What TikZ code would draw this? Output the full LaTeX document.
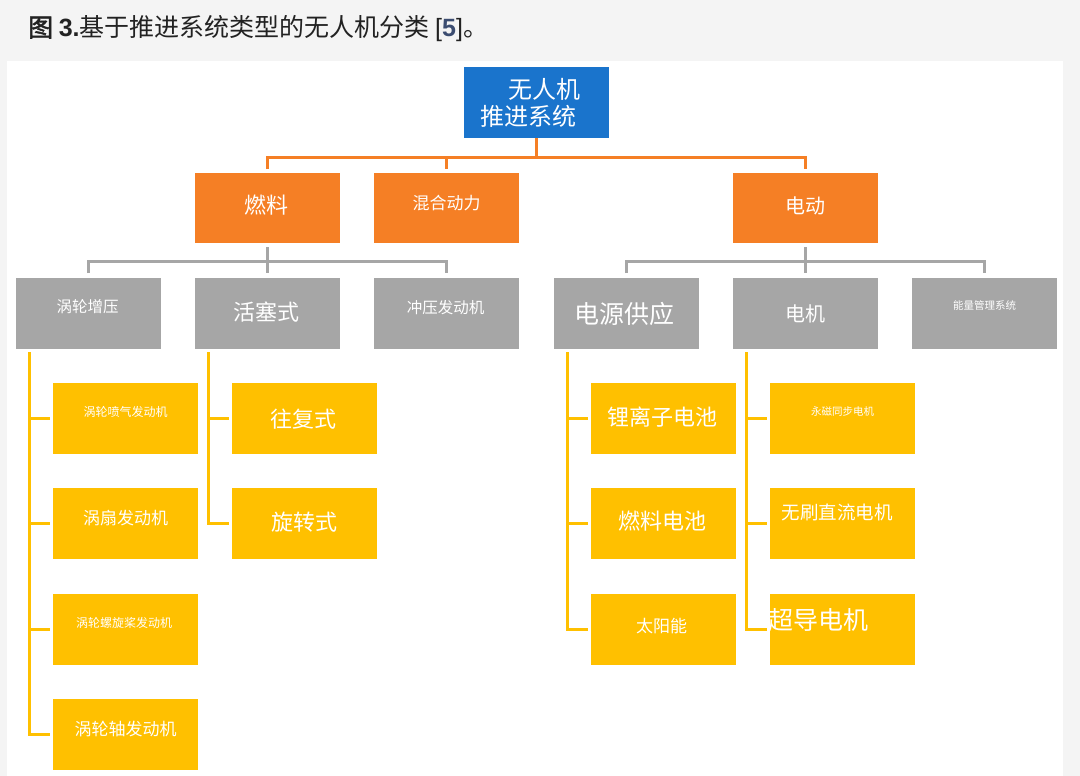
\documentclass[tikz,border=0pt]{standalone}
\usepackage{fontspec}
\setmainfont{Noto Sans CJK SC}[AutoFakeBold=2]
\newfontfamily\lat{Liberation Sans}
\usetikzlibrary{calc}
\definecolor{bgout}{HTML}{F4F4F4}
\definecolor{cblue}{HTML}{1A74CC}
\definecolor{corange}{HTML}{F57F25}
\definecolor{cgray}{HTML}{A6A6A6}
\definecolor{cyellow}{HTML}{FFC000}
\definecolor{cref}{HTML}{3B4C70}
\definecolor{ctitle}{HTML}{222222}
\newcommand\fs[1]{\fontsize{#1}{#1}\selectfont}
\newcommand\off[3]{\raisebox{\dimexpr 0pt-(#2)-0.38em\relax}[0pt][0pt]{\makebox[0pt]{\hspace*{#1}\hspace*{#1}#3}}}
\newcommand\tb[4]{\fs{#1}\off{#2}{#3}{#4}}
\begin{document}
\begin{tikzpicture}[x=1pt,y=-1pt,
  box/.style={minimum width=145pt, minimum height=71pt, inner sep=0pt, outer sep=0pt, text=white},
  rootbox/.style={box, fill=cblue},
  obox/.style={box, fill=corange, minimum height=70pt},
  gbox/.style={box, fill=cgray},
  ybox/.style={box, fill=cyellow},
  oline/.style={draw=corange, line width=3pt},
  gline/.style={draw=cgray, line width=3pt},
  yline/.style={draw=cyellow, line width=3pt}]
\useasboundingbox (0,0) rectangle (1080,776);
\fill[bgout] (0,0) rectangle (1080,776);
\fill[white] (7,61) rectangle (1063,776);

\node[anchor=base west, inner sep=0pt, text=ctitle] (title) at (28,36.5)
  {\fs{25}\textbf{图 {\lat 3.}}基于推进系统类型的无人机分类 {\lat[\textbf{\textcolor{cref}{5}}]}。};

% root
\node[rootbox] (root) at (536.5,102.5) {\fs{24}\off{7.5pt}{-13.5pt}{无人机}\off{-8.5pt}{13.5pt}{推进系统}};

% level 1
\node[obox] (fuel) at (267.5,208) {\tb{22}{-1.5pt}{-3pt}{燃料}};
\node[obox] (hyb)  at (446.5,208) {\tb{17}{0pt}{-4.5pt}{混合动力}};
\node[obox] (elec) at (805.5,208) {\tb{20}{0pt}{-2.5pt}{电动}};

% level 2
\node[gbox] (turbo)  at (88.5,313.5)  {\tb{15.5}{-1pt}{-6.5pt}{涡轮增压}};
\node[gbox] (piston) at (267.5,313.5) {\tb{22}{-1.5pt}{-1.5pt}{活塞式}};
\node[gbox] (ram)    at (446.5,313.5) {\tb{15.5}{-1pt}{-5.5pt}{冲压发动机}};
\node[gbox] (power)  at (626.5,313.5) {\tb{25}{-2pt}{0.5pt}{电源供应}};
\node[gbox] (motor)  at (805.5,313.5) {\tb{20}{0pt}{0pt}{电机}};
\node[gbox] (ems)    at (984.5,313.5) {\tb{10.5}{0pt}{-8pt}{能量管理系统}};

% level 3
\node[ybox] (tj) at (125.5,418.5) {\tb{12}{0pt}{-7pt}{涡轮喷气发动机}};
\node[ybox] (tf) at (125.5,523.5) {\tb{17}{0pt}{-5pt}{涡扇发动机}};
\node[ybox] (tp) at (125.5,629)   {\tb{12}{-1.5pt}{-6pt}{涡轮螺旋桨发动机}};
\node[ybox] (ts) at (125.5,734)   {\tb{17}{0pt}{-5pt}{涡轮轴发动机}};

\node[ybox] (recip) at (304.5,418.5) {\tb{22}{-1.5pt}{0.5pt}{往复式}};
\node[ybox] (rot)   at (304.5,523.5) {\tb{22}{0pt}{-1pt}{旋转式}};

\node[ybox] (li)    at (663.5,418.5) {\tb{22}{-1pt}{-1pt}{锂离子电池}};
\node[ybox] (fc)    at (663.5,523.5) {\tb{22}{-1.5pt}{-2.5pt}{燃料电池}};
\node[ybox] (solar) at (663.5,629)   {\tb{17}{-2pt}{-3pt}{太阳能}};

\node[ybox] (pm) at (842.5,418.5) {\tb{10.5}{0pt}{-7pt}{永磁同步电机}};
\node[ybox] (bl) at (842.5,523.5) {\tb{18.5}{-5.5pt}{-11pt}{无刷直流电机}};
\node[ybox] (sc) at (842.5,629)   {\tb{25}{-24.5pt}{-9pt}{超导电机}};

% orange connectors
\coordinate (obus) at ([yshift=16pt]fuel.north);
\draw[oline] (root.south) -- (root.south |- obus);
\draw[oline] ([yshift=4pt]fuel.north) -- (obus) -- (elec.north |- obus) -- ([yshift=4pt]elec.north);
\draw[oline] (hyb.north |- obus) -- ([yshift=4pt]hyb.north);

% gray connectors
\coordinate (gbus1) at ([yshift=-18pt]fuel.south);
\draw[gline] ([yshift=-4pt]fuel.south) -- (gbus1);
\draw[gline] ([yshift=5pt]turbo.north) -- (turbo.north |- gbus1) -- (ram.north |- gbus1) -- ([yshift=5pt]ram.north);
\draw[gline] (piston.north |- gbus1) -- ([yshift=5pt]piston.north);
\coordinate (gbus2) at ([yshift=-18pt]elec.south);
\draw[gline] ([yshift=-4pt]elec.south) -- (gbus2);
\draw[gline] ([yshift=5pt]power.north) -- (power.north |- gbus2) -- (ems.north |- gbus2) -- ([yshift=5pt]ems.north);
\draw[gline] (motor.north |- gbus2) -- ([yshift=5pt]motor.north);

% yellow connectors
\coordinate (v1) at ([xshift=13pt,yshift=-3pt]turbo.south west);
\draw[yline] (v1) |- ([xshift=-3pt]ts.west);
\foreach \c in {tj,tf,tp} \draw[yline] (v1 |- \c.west) -- ([xshift=-3pt]\c.west);
\coordinate (v2) at ([xshift=13pt,yshift=-3pt]piston.south west);
\draw[yline] (v2) |- ([xshift=-3pt]rot.west);
\draw[yline] (v2 |- recip.west) -- ([xshift=-3pt]recip.west);
\coordinate (v3) at ([xshift=13pt,yshift=-3pt]power.south west);
\draw[yline] (v3) |- ([xshift=-3pt]solar.west);
\foreach \c in {li,fc} \draw[yline] (v3 |- \c.west) -- ([xshift=-3pt]\c.west);
\coordinate (v4) at ([xshift=13pt,yshift=-3pt]motor.south west);
\draw[yline] (v4) |- ([xshift=-3pt]sc.west);
\foreach \c in {pm,bl} \draw[yline] (v4 |- \c.west) -- ([xshift=-3pt]\c.west);
\end{tikzpicture}
\end{document}
